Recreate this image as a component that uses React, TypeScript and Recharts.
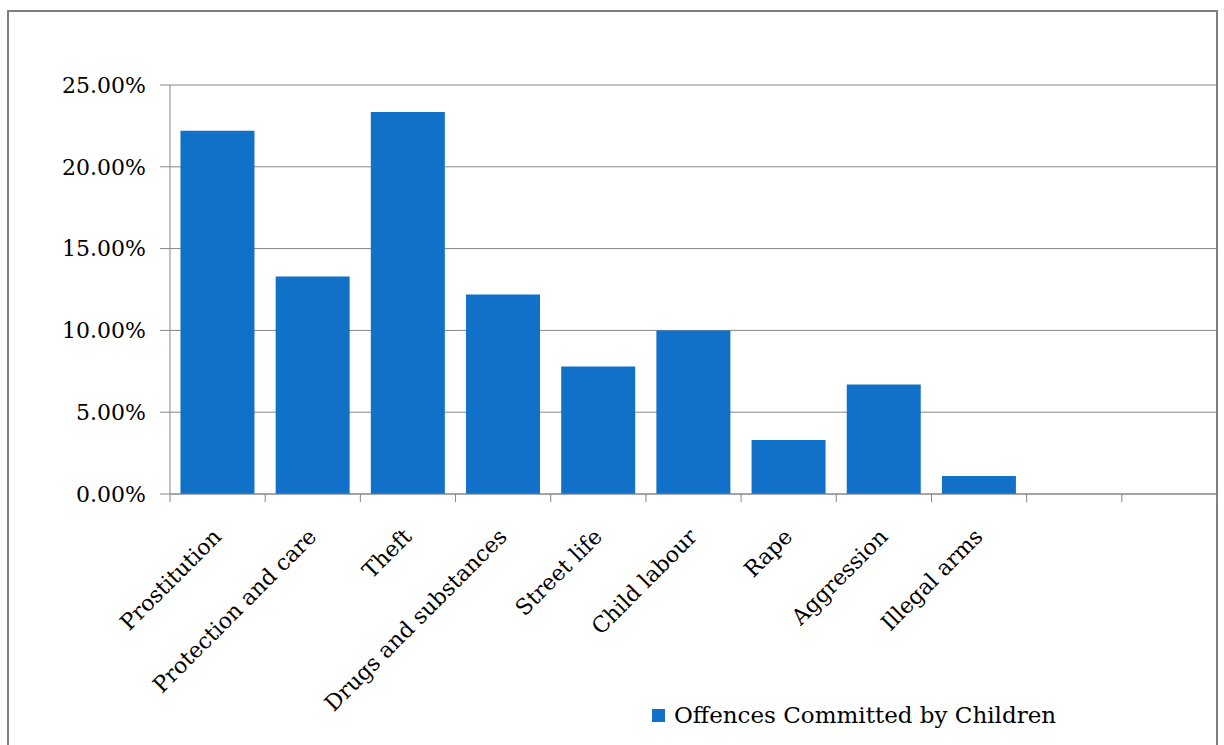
import { BarChart, Bar, XAxis, YAxis, CartesianGrid, Legend } from "recharts";

const categories = [
  "Prostitution",
  "Protection and care",
  "Theft",
  "Drugs and substances",
  "Street life",
  "Child labour",
  "Rape",
  "Aggression",
  "Illegal arms",
  "",
  "",
];
const offences = [0.222, 0.133, 0.2335, 0.122, 0.078, 0.1, 0.033, 0.067, 0.011, null, null];
const yTicks = [0, 0.05, 0.1, 0.15, 0.2, 0.25];

const FONT = "'DejaVu Serif', serif";
const BLUE = "#1170C7";
const GREY = "#868686";

const data = categories.map((name, i) => ({ name, value: offences[i] }));

// label + tick marks between categories (Excel style)
function CategoryTick(props: any) {
  const { x, y, payload, index } = props;
  const half = payload && payload.offset ? payload.offset : 47.6;
  const last = index === categories.length - 1;
  return (
    <g>
      <line x1={x - half} x2={x - half} y1={y} y2={y + 8} stroke={GREY} />
      {last && <line x1={x + half} x2={x + half} y1={y} y2={y + 8} stroke={GREY} />}
      <g transform={`translate(${x - 6},${y + 33})`}>
        <text
          textAnchor="end"
          transform="rotate(-45)"
          dy="0.71em"
          fontFamily={FONT}
          fontSize={22}
          fill="#000"
        >
          {payload.value}
        </text>
      </g>
    </g>
  );
}

function LegendContent() {
  return (
    <div style={{ display: "flex", alignItems: "center", fontFamily: FONT, fontSize: 23, color: "#000" }}>
      <span style={{ display: "inline-block", width: 13, height: 13, background: BLUE, marginRight: 9 }} />
      <span>Offences Committed by Children</span>
    </div>
  );
}

export default function App() {
  return (
    <div style={{ position: "absolute", left: 0, top: 0, width: 1224, height: 745, background: "#fff", overflow: "hidden" }}>
      <div
        style={{
          position: "absolute",
          left: 7,
          top: 10,
          width: 1207,
          height: 780,
          border: "2px solid #7f7f7f",
        }}
      />
      <div style={{ position: "absolute", left: 0, top: 0 }}>
        <BarChart
          width={1224}
          height={745}
          data={data}
          margin={{ top: 85, right: 7, left: 0, bottom: 51 }}
          barCategoryGap="11%"
        >
          <CartesianGrid vertical={false} stroke={GREY} strokeWidth={1} />
          <XAxis
            dataKey="name"
            height={200}
            stroke={GREY}
            tickLine={false}
            tickSize={0}
            tickMargin={0}
            interval={0}
            tick={<CategoryTick />}
          />
          <YAxis
            width={170}
            domain={[0, 0.25]}
            ticks={yTicks}
            tickSize={10}
            tickMargin={14}
            stroke={GREY}
            tick={{ fill: "#000", fontFamily: FONT, fontSize: 22 }}
            tickFormatter={(v: number) => (v * 100).toFixed(2) + "%"}
          />
          <Legend
            verticalAlign="middle"
            align="center"
            content={<LegendContent />}
            wrapperStyle={{ position: "absolute", left: 652, top: 702, width: 450 }}
          />
          <Bar dataKey="value" fill={BLUE} isAnimationActive={false} />
        </BarChart>
      </div>
    </div>
  );
}
